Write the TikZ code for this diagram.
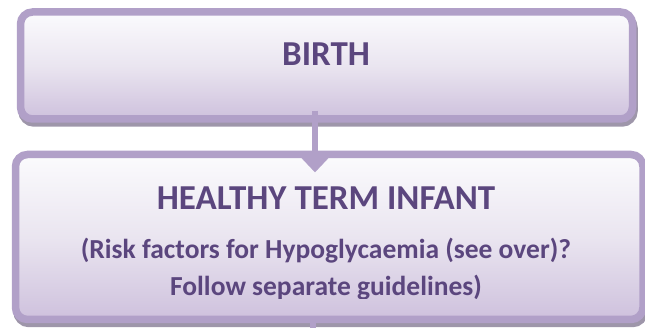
\documentclass[tikz,border=0pt]{standalone}
\usepackage{fontspec}
\setmainfont{Carlito}
\usetikzlibrary{arrows.meta,shadows}
\definecolor{bordc}{RGB}{177,160,200}
\definecolor{topc}{RGB}{251,251,253}
\definecolor{midc}{RGB}{234,229,240}
\definecolor{botc}{RGB}{206,193,221}
\definecolor{txtc}{RGB}{91,70,126}
\definecolor{shadc}{RGB}{158,150,170}
\begin{document}
\begin{tikzpicture}[x=1pt,y=-1pt,
  box/.style={rectangle, rounded corners=12pt, inner sep=0pt, draw=bordc, line width=7.5pt,
    top color=topc, bottom color=botc, middle color=midc,
    drop shadow={shadow xshift=1.5pt, shadow yshift=-4pt, fill=shadc, draw=shadc, line width=7.5pt, opacity=1}},
  titletext/.style={text=txtc, font=\bfseries\fontsize{35}{40}\selectfont, inner sep=0pt, anchor=base},
  subtext/.style={text=txtc, font=\bfseries\fontsize{27.5}{32}\selectfont, inner sep=0pt, anchor=base},
  conn/.style={draw=bordc, line width=6.5pt}
]
\useasboundingbox (0,0) rectangle (645,328);
\node[box, minimum width=612pt, minimum height=107pt] (birth) at (326.5,65.5) {};
\node[box, minimum width=627.5pt, minimum height=165pt] (infant) at (329.25,237) {};
\node[titletext] (birthtxt) at (326,66) {BIRTH};
\node[titletext] (inftxt) at (326,210) {HEALTHY TERM INFANT};
\node[subtext] (risktxt) at (326,259) {(Risk factors for Hypoglycaemia (see over)?};
\begin{scope}
\clip (0,0) rectangle (645,299);
\node[subtext] (followtxt) at (326,296) {Follow separate guidelines)};
\end{scope}
\draw[conn, -{Triangle[width=34pt,length=18pt,line width=0.1pt]}]
  ([xshift=-11.5pt,yshift=12pt]birth.south) -- ([xshift=-14.25pt,yshift=-21.5pt]infant.north);
\coordinate (stubend) at (313,332);
\draw[conn] ([xshift=-16.25pt,yshift=6.5pt]infant.south) -- (stubend);
\end{tikzpicture}
\end{document}
